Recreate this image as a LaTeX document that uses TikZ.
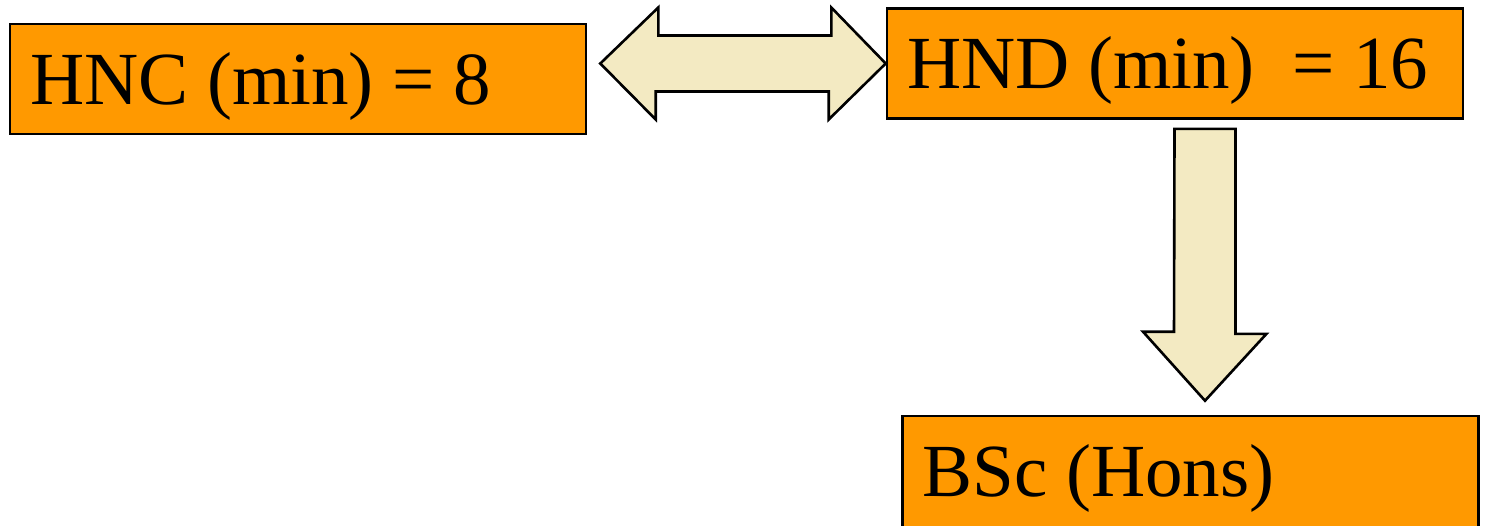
\documentclass[tikz,border=0pt]{standalone}
\usepackage{fontspec}
\setmainfont{Liberation Serif}
\usepackage{tikz}
\usetikzlibrary{calc}
\definecolor{boxcolor}{HTML}{FF9900}
\definecolor{arrowcolor}{HTML}{F3EAC2}

\begin{document}
\begin{tikzpicture}[x=0.5pt,y=-0.5pt,
  level/.style={draw=black,fill=boxcolor,line width=1.3pt,inner xsep=10pt,inner ysep=0pt,
    text width=268pt,align=flush left,text height=40pt,text depth=15pt,
    font=\fontsize{37.5}{45}\selectfont},
  blockarrow/.style={draw=black,fill=arrowcolor,line width=1.3pt,line join=miter}]
\useasboundingbox (0,0) rectangle (1486,525);
%% qualification boxes
\node[level] (hnc) at (298,79) {HNC (min) = 8};
\node[level] (hnd) at (1175,63.5) {HND (min)~ = 16};
\node[level,text depth=20pt] (bsc) at (1190.5,476) {BSc (Hons)};

%% two-way arrow between HNC and HND
\coordinate (dl) at ($(hnc.east |- hnd.west)+(13,0)$);
\draw[blockarrow] (dl) -- ++(58,-56) -- ++(0,28) -- ++(173,0) -- ++(0,-28)
   -- (hnd.west) -- ++(-57,56) -- ++(0,-28) -- ++(-173,0) -- ++(0,28) -- cycle;

%% arrow down from HND to BSc
\coordinate (dt) at ($(hnd.south)+(30,9)$);
\coordinate (dtip) at ($(bsc.north -| dt)+(0,-14)$);
\draw[blockarrow] ($(dt)+(-30.5,0)$) -- ++(61,0) -- ++(0,205) -- ++(31,0)
   -- (dtip) -- ++(-62,-69) -- ++(31,0) -- cycle;
\end{tikzpicture}
\end{document}
